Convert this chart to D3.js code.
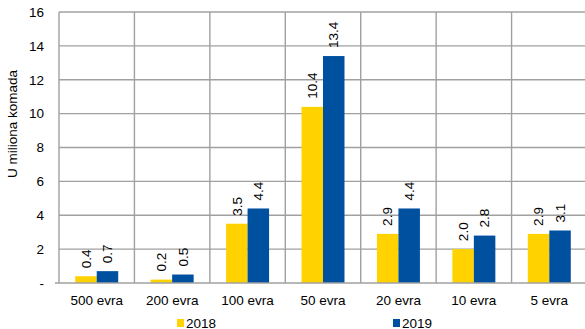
<!DOCTYPE html>
<html><head><meta charset="utf-8">
<script src="https://cdn.jsdelivr.net/npm/d3@7"></script>
<style>
html,body{margin:0;padding:0;background:#fff;}
svg{display:block;font-family:"Liberation Sans",Arial,sans-serif;}
</style></head>
<body><svg id="c" width="585" height="329"></svg>
<script>
const categories = ["500 evra","200 evra","100 evra","50 evra","20 evra","10 evra","5 evra"];
const seriesNames = ["2018","2019"];
const values2018 = [0.4,0.2,3.5,10.4,2.9,2.0,2.9];
const values2019 = [0.7,0.5,4.4,13.4,4.4,2.8,3.1];
const yTicks = [0,2,4,6,8,10,12,14,16];
const colors = ["#FFD200","#0050A0"];
const yTitle = "U miliona komada";

(function(){
const svg = d3.select("#c");
const pL = 59, pR = 587, pT = 12, pB = 283;
const x0 = d3.scaleBand().domain(categories).range([pL, pR]).padding(0);
const bw = x0.bandwidth();
const x1 = d3.scaleBand().domain(seriesNames).range([bw*0.215, bw*0.785]).padding(0);
const y = d3.scaleLinear().domain([0,16]).range([pB, pT]);
const grid = "#a0a0a0";

svg.append("g").selectAll("line").data(yTicks.filter(d=>d>0)).join("line")
  .attr("x1", pL).attr("x2", pR).attr("y1", d=>y(d)).attr("y2", d=>y(d))
  .attr("stroke", grid).attr("stroke-width", 1.4);
svg.append("g").selectAll("line").data(categories).join("line")
  .attr("x1", d=>x0(d)).attr("x2", d=>x0(d)).attr("y1", pT).attr("y2", pB)
  .attr("stroke", grid).attr("stroke-width", 1.4);

const yAxis = d3.axisLeft(y).tickValues(yTicks).tickSize(0).tickPadding(15)
  .tickFormat(d => d===0 ? "-" : d);
const ga = svg.append("g").attr("transform", `translate(${pL},0)`).call(yAxis);
ga.select(".domain").remove();
ga.selectAll("text").attr("font-size", 13.5).attr("fill", "#000")
  .attr("font-family", "Liberation Sans, Arial, sans-serif");

const data = categories.map((c,i)=>({c, vals:[values2018[i], values2019[i]]}));
const groups = svg.append("g").selectAll("g").data(data).join("g")
  .attr("transform", d=>`translate(${x0(d.c)},0)`);
groups.selectAll("rect").data(d=>d.vals.map((v,j)=>({v, s:seriesNames[j], j}))).join("rect")
  .attr("x", d=>x1(d.s)).attr("width", x1.bandwidth())
  .attr("y", d=>y(d.v)).attr("height", d=>pB - y(d.v))
  .attr("fill", d=>colors[d.j]);
groups.selectAll("text").data(d=>d.vals.map((v,j)=>({v, s:seriesNames[j], j}))).join("text")
  .attr("transform", d=>`translate(${x1(d.s)+x1.bandwidth()/2},${y(d.v)-8}) rotate(-90)`)
  .attr("dy", "0.35em").attr("text-anchor","start")
  .attr("font-size", 13.5).attr("fill","#000")
  .text(d=>d.v.toFixed(1));

svg.append("line").attr("x1", pL-4).attr("x2", pR).attr("y1", pB).attr("y2", pB)
  .attr("stroke", grid).attr("stroke-width", 1.4);

const xAxis = d3.axisBottom(x0).tickSize(0).tickPadding(12);
const gx = svg.append("g").attr("transform", `translate(0,${pB})`).call(xAxis);
gx.select(".domain").remove();
gx.selectAll("text").attr("font-size", 13.5).attr("fill","#000")
  .attr("font-family", "Liberation Sans, Arial, sans-serif");

svg.append("text").attr("transform", "translate(17,124) rotate(-90)")
  .attr("text-anchor","middle").attr("font-size", 13.5).text(yTitle);

const legX = [177, 393];
seriesNames.forEach((s,i)=>{
  svg.append("rect").attr("x", legX[i]).attr("y", 319).attr("width", 7).attr("height", 8).attr("fill", colors[i]);
  svg.append("text").attr("x", legX[i]+9).attr("y", 327.5).attr("font-size", 13.5).text(s);
});
})();
</script></body></html>
